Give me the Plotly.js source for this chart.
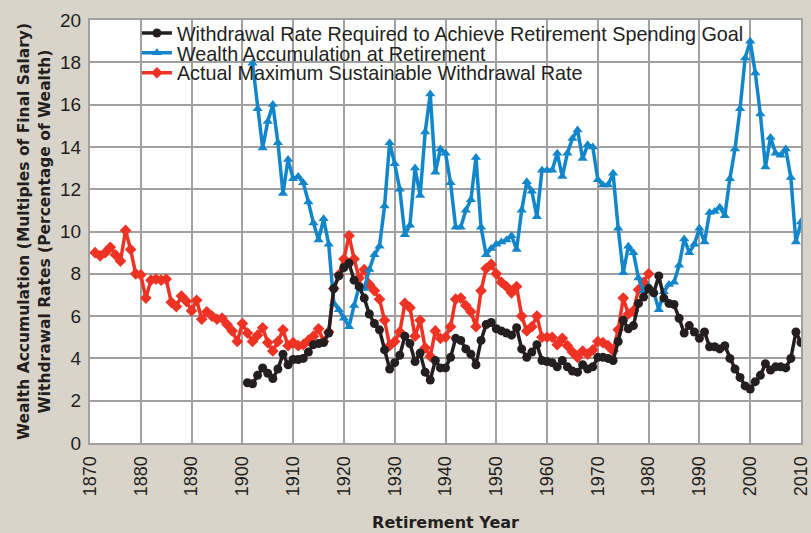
<!DOCTYPE html>
<html>
<head>
<meta charset="utf-8">
<script src="https://cdn.plot.ly/plotly-3.0.1.min.js"></script>
<style>html,body{margin:0;padding:0;background:#d8d4ca;}#chart{width:811px;height:533px;}</style>
</head>
<body>
<div id="chart"></div>
<script>
// Actual Maximum Sustainable Withdrawal Rate, 1871-1980
const redStart = 1871;
const redValues = [
  9.0, 8.85, 9.0, 9.25, 8.9, 8.6, 10.05, 9.15, 8.0, 7.95,
  6.85, 7.7, 7.75, 7.7, 7.75, 6.65, 6.45, 6.95, 6.7, 6.25,
  6.75, 5.85, 6.2, 6.0, 5.85, 5.9, 5.6, 5.3, 4.8, 5.65,
  5.2, 4.8, 5.1, 5.45, 4.75, 4.35, 4.8, 5.35, 4.6, 4.75,
  4.6, 4.65, 4.85, 5.05, 5.4, 4.8, 5.25, 7.3, 7.95, 8.7,
  9.8, 8.7, 7.8, 8.2, 7.5, 7.2, 6.8, 5.8, 4.6, 4.8,
  5.25, 6.6, 6.4, 5.05, 5.8, 4.5, 4.1, 5.3, 4.95, 5.0,
  5.5, 6.8, 6.85, 6.5, 6.2, 5.5, 7.2, 8.25, 8.45, 8.0,
  7.6, 7.4, 7.1, 7.4, 6.0, 5.3, 5.5, 6.0, 5.0, 5.0,
  5.0, 4.65, 4.95, 4.6, 4.3, 4.05, 4.35, 4.2, 4.4, 4.8,
  4.75, 4.6, 4.35, 5.35, 6.85, 6.1, 6.25, 7.25, 7.6, 8.0
];

// Withdrawal Rate Required to Achieve Retirement Spending Goal, 1901-2010
const blackStart = 1901;
const blackValues = [
  2.85, 2.8, 3.2, 3.55, 3.3, 3.05, 3.5, 4.2, 3.7, 3.95,
  3.95, 4.0, 4.3, 4.65, 4.7, 4.75, 5.2, 7.3, 7.9, 8.3,
  8.5, 7.7, 7.4, 6.85, 6.1, 5.65, 5.35, 4.4, 3.5, 3.8,
  4.15, 5.05, 4.7, 3.85, 4.25, 3.35, 2.98, 3.9, 3.55, 3.55,
  4.05, 4.95, 4.85, 4.45, 4.2, 3.7, 4.85, 5.6, 5.7, 5.4,
  5.3, 5.2, 5.1, 5.45, 4.45, 4.05, 4.3, 4.65, 3.9, 3.85,
  3.8, 3.6, 3.9, 3.6, 3.4, 3.35, 3.7, 3.5, 3.6, 4.05,
  4.05, 4.0, 3.9, 4.8, 5.8, 5.4, 5.55, 6.6, 6.9, 7.3,
  7.1, 7.9, 6.85, 6.6, 6.55, 5.9, 5.2, 5.55, 5.25, 4.95,
  5.25, 4.55, 4.55, 4.45, 4.6, 4.0, 3.5, 3.1, 2.7, 2.55,
  2.9, 3.2, 3.75, 3.45, 3.6, 3.6, 3.55, 4.0, 5.25, 4.75
];

// Wealth Accumulation at Retirement, 1902-2010
const blueStart = 1902;
const blueValues = [
  17.95, 15.8, 13.95, 15.2, 16.0, 14.2, 11.8, 13.4, 12.5,
  12.6, 12.3, 11.4, 10.4, 9.6, 10.6, 9.4, 6.6, 6.3, 5.9,
  5.5, 6.5, 7.4, 7.3, 8.2, 8.9, 9.3, 11.2, 14.2, 13.2,
  12.0, 9.85, 10.3, 13.0, 11.7, 14.7, 16.5, 12.8, 13.9, 13.7,
  12.3, 10.2, 10.2, 11.0, 11.5, 13.5, 10.2, 8.9, 9.2, 9.4,
  9.5, 9.6, 9.8, 9.15, 11.0, 12.35, 11.9, 10.7, 12.9, 12.9,
  12.9, 13.7, 12.6, 13.7, 14.4, 14.8, 13.45, 14.1, 14.0, 12.45,
  12.2, 12.2, 12.75, 10.15, 8.05, 9.3, 9.0, 7.8, 7.2, 7.4,
  7.15, 6.3, 7.15, 7.5, 7.6, 8.4, 9.65, 9.0, 9.4, 10.15,
  9.5, 10.9, 10.95, 11.15, 10.75, 12.5, 13.9, 15.8, 18.2, 19.0,
  17.5, 15.55, 13.05, 14.45, 13.7, 13.6, 13.9, 12.55, 9.5, 10.45
];

const seriesNames = [
  'Withdrawal Rate Required to Achieve Retirement Spending Goal',
  'Wealth Accumulation at Retirement',
  'Actual Maximum Sustainable Withdrawal Rate'
];
const xTitle = 'Retirement Year';
const yTitleLines = ['Wealth Accumulation (Multiples of Final Salary)', 'Withdrawal Rates (Percentage of Wealth)'];

function yearsFrom(start, n) {
  const out = [];
  for (let i = 0; i < n; i++) out.push(start + i);
  return out;
}

const BLACK = '#231f20', BLUE = '#1186cb', RED = '#ee3224';
const GRID = '#a0a0a0';
const FONT = 'Liberation Sans, Arial, sans-serif';
const BOLD = 'DejaVu Sans, Verdana, sans-serif';

const traces = [
  {
    x: yearsFrom(redStart, redValues.length), y: redValues,
    name: seriesNames[2], mode: 'lines+markers', legend: 'legend3',
    line: {color: RED, width: 3.5}, marker: {symbol: 'diamond', size: 9, color: RED}
  },
  {
    x: yearsFrom(blueStart, blueValues.length), y: blueValues,
    name: seriesNames[1], mode: 'lines+markers', legend: 'legend2',
    line: {color: BLUE, width: 3.5}, marker: {symbol: 'triangle-up', size: 9, color: BLUE}
  },
  {
    x: yearsFrom(blackStart, blackValues.length), y: blackValues,
    name: seriesNames[0], mode: 'lines+markers', legend: 'legend',
    line: {color: BLACK, width: 3.5}, marker: {symbol: 'circle', size: 9, color: BLACK}
  }
];

const legendBase = {
  x: 0.066, xanchor: 'left', yanchor: 'middle',
  bgcolor: 'rgba(0,0,0,0)', borderwidth: 0,
  font: {family: FONT, size: 19.8, color: BLACK}, itemwidth: 30
};

const layout = {
  width: 811, height: 533,
  margin: {l: 90, r: 10, t: 20, b: 90},
  paper_bgcolor: '#d8d4ca', plot_bgcolor: '#ffffff',
  font: {family: FONT, color: BLACK},
  xaxis: {
    range: [1870, 2010], tick0: 1870, dtick: 10, tickangle: -90,
    showgrid: true, gridcolor: GRID, gridwidth: 2,
    showline: true, linecolor: GRID, linewidth: 2, mirror: true,
    zeroline: false, ticks: 'outside', ticklen: 4, tickcolor: 'rgba(0,0,0,0)',
    tickfont: {family: FONT, size: 18, color: BLACK},
    title: {text: '<b>' + xTitle + '</b>', font: {family: BOLD, size: 16, color: BLACK}, standoff: 22}
  },
  yaxis: {
    range: [0, 20], tick0: 0, dtick: 2,
    showgrid: true, gridcolor: GRID, gridwidth: 2,
    showline: true, linecolor: GRID, linewidth: 2, mirror: true,
    zeroline: false, ticks: 'outside', ticklen: 3, tickcolor: 'rgba(0,0,0,0)',
    tickfont: {family: FONT, size: 19, color: BLACK},
    title: {text: '<b>' + yTitleLines.join('<br>') + '</b>', font: {family: BOLD, size: 15.5, color: BLACK}, standoff: 6}
  },
  legend: Object.assign({}, legendBase, {y: 0.969}),
  legend2: Object.assign({}, legendBase, {y: 0.922}),
  legend3: Object.assign({}, legendBase, {y: 0.875}),
  showlegend: true
};

Plotly.newPlot('chart', traces, layout, {displayModeBar: false, staticPlot: true});
</script>
</body>
</html>
